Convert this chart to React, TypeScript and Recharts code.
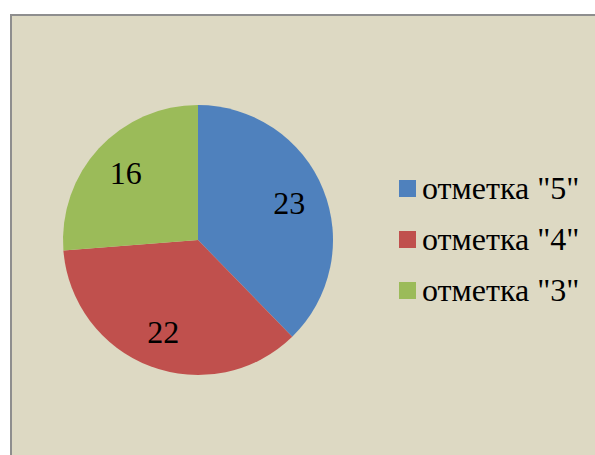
import { Cell, Legend, Pie, PieChart } from "recharts"

const labels = ['отметка "5"', 'отметка "4"', 'отметка "3"']
const counts = [23, 22, 16]
const colors = ["#4F81BD", "#C0504D", "#9BBB59"]

const data = labels.map((name, i) => ({ name, value: counts[i] }))

const RAD = Math.PI / 180

function renderLabel(props: any) {
    const { cx, cy, midAngle, outerRadius, value } = props
    const r = outerRadius * 0.73
    const x = cx + r * Math.cos(-midAngle * RAD)
    const y = cy + r * Math.sin(-midAngle * RAD)
    return (
        <text
            x={x}
            y={y}
            textAnchor="middle"
            dominantBaseline="central"
            fontFamily="'Liberation Serif', serif"
            fontSize={32}
            fill="#000"
        >
            {value}
        </text>
    )
}

function LegendBox() {
    return (
        <div style={{ fontFamily: "'Liberation Serif', serif", fontSize: 32, color: "#000" }}>
            {data.map((d, i) => (
                <div key={d.name} style={{ display: "flex", alignItems: "center", height: 51 }}>
                    <span
                        style={{
                            display: "inline-block",
                            width: 17,
                            height: 17,
                            background: colors[i],
                            marginRight: 6,
                        }}
                    />
                    <span>{d.name}</span>
                </div>
            ))}
        </div>
    )
}

export default function App() {
    return (
        <div style={{ position: "absolute", left: 0, top: 0, width: 595, height: 455, background: "#fff", overflow: "hidden" }}>
            <div
                style={{
                    position: "absolute",
                    left: 10,
                    top: 14,
                    width: 600,
                    height: 460,
                    background: "#DDD9C3",
                    borderLeft: "2px solid #8E8E8E",
                    borderTop: "2px solid #8E8E8E",
                }}
            />
            <div style={{ position: "absolute", left: 0, top: 0 }}>
                <PieChart width={595} height={455} margin={{ top: 0, right: 0, bottom: 0, left: 0 }}>
                    <Pie
                        data={data}
                        dataKey="value"
                        nameKey="name"
                        cx={198}
                        cy={240}
                        outerRadius={135}
                        startAngle={90}
                        endAngle={-270}
                        stroke="none"
                        label={renderLabel}
                        labelLine={false}
                        isAnimationActive={false}
                    >
                        {data.map((d, i) => (
                            <Cell key={d.name} fill={colors[i]} />
                        ))}
                    </Pie>
                    <Legend
                        content={() => <LegendBox />}
                        wrapperStyle={{ position: "absolute", left: 399, top: 163, width: 200 }}
                    />
                </PieChart>
            </div>
        </div>
    )
}
